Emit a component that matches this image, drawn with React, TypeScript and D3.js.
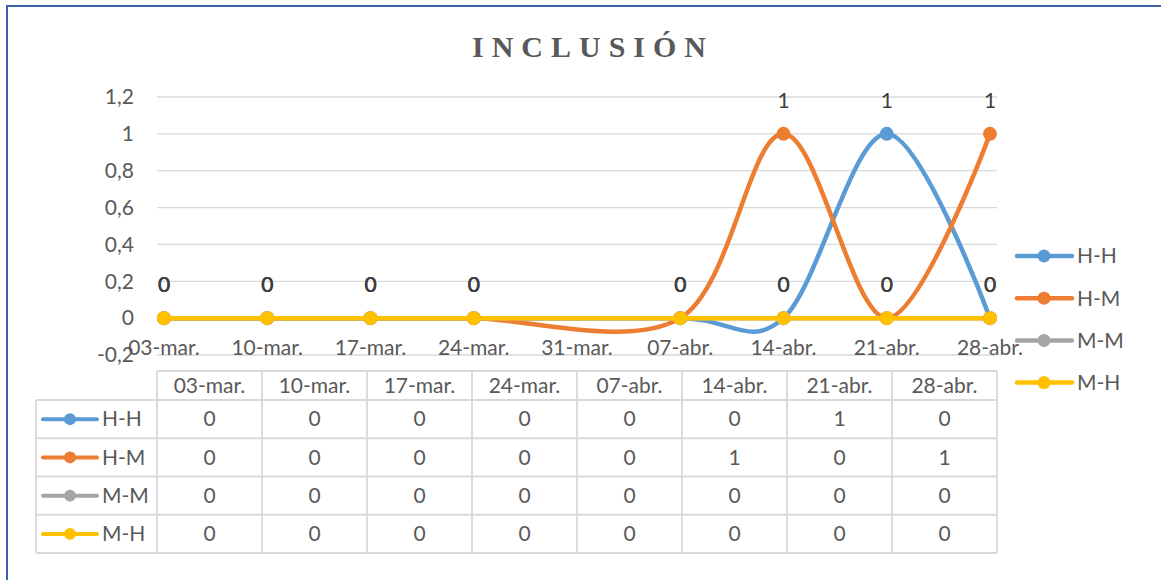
import React from "react";
import * as d3 from "d3";

const title = "INCLUSIÓN";
const axisWeeks = ["03-mar.", "10-mar.", "17-mar.", "24-mar.", "31-mar.", "07-abr.", "14-abr.", "21-abr.", "28-abr."];
const categories = ["03-mar.", "10-mar.", "17-mar.", "24-mar.", "07-abr.", "14-abr.", "21-abr.", "28-abr."];
const seriesNames = ["H-H", "H-M", "M-M", "M-H"];
const hh = [0, 0, 0, 0, 0, 0, 1, 0];
const hm = [0, 0, 0, 0, 0, 1, 0, 1];
const mm = [0, 0, 0, 0, 0, 0, 0, 0];
const mh = [0, 0, 0, 0, 0, 0, 0, 0];
const yTicks = [-0.2, 0, 0.2, 0.4, 0.6, 0.8, 1, 1.2];
const colors = ["#5B9BD5", "#ED7D31", "#A5A5A5", "#FFC000"];

const seriesValues = [hh, hm, mm, mh];
const monthIdx: Record<string, number> = { "mar.": 2, "abr.": 3 };
const toDate = (s: string) => {
  const [d, m] = s.split("-");
  return new Date(2021, monthIdx[m], parseInt(d, 10));
};

const FONT = "Lato, 'Open Sans', sans-serif";
const TXT = "#595959";
const FS = 21;

export default function App() {
  const x = d3
    .scaleTime()
    .domain([toDate(axisWeeks[0]), toDate(axisWeeks[axisWeeks.length - 1])])
    .range([164, 990]);
  const y = d3.scaleLinear().domain([-0.2, 1.2]).range([355, 97]);
  const plotLeft = 157;
  const plotRight = 997;

  const line = d3
    .line<number>()
    .x((_, i) => x(toDate(categories[i])))
    .y((v) => y(v))
    .curve(d3.curveCardinal.tension(0));

  const col = d3.scaleBand<string>().domain(categories).range([157, 997]);
  const headerTop = 371;
  const headerBottom = 400;
  const tableLeft = 36;
  const row = d3.scaleBand<string>().domain(seriesNames).range([headerBottom, 553]);
  const grid = "#D9D9D9";

  return (
    <svg
      width={1161}
      height={580}
      style={{ position: "absolute", left: 0, top: 0, display: "block", background: "#fff" }}
      fontFamily={FONT}
    >
      <rect x={0} y={0} width={1161} height={580} fill="#fff" />
      <rect x={7} y={6} width={1164} height={590} fill="none" stroke="#3A62A8" strokeWidth={2} />

      <text
        x={472}
        y={57}
        textLength={234}
        lengthAdjust="spacing"
        fontFamily="'Liberation Serif', 'DejaVu Serif', serif"
        fontWeight="bold"
        fontSize={30}
        fill={TXT}
      >
        {title}
      </text>

      {yTicks.map((t) => (
        <g key={t}>
          <line x1={plotLeft} x2={plotRight} y1={y(t)} y2={y(t)} stroke={grid} strokeWidth={1.3} />
          <text x={134} y={y(t)} dy="0.35em" textAnchor="end" fontSize={FS} fill={TXT}>
            {String(Math.round(t * 10) / 10).replace(".", ",")}
          </text>
        </g>
      ))}

      {axisWeeks.map((w) => (
        <text key={w} x={x(toDate(w))} y={348} dy="0.35em" textAnchor="middle" fontSize={FS} fill={TXT}>
          {w}
        </text>
      ))}

      {seriesValues.map((vals, si) => (
        <g key={seriesNames[si]}>
          <path d={line(vals) || ""} fill="none" stroke={colors[si]} strokeWidth={4.5} strokeLinecap="round" />
          {vals.map((v, i) => (
            <circle key={i} cx={x(toDate(categories[i]))} cy={y(v)} r={7} fill={colors[si]} />
          ))}
        </g>
      ))}

      {seriesValues.map((vals, si) =>
        vals.map((v, i) => (
          <text
            key={`${si}-${i}`}
            x={x(toDate(categories[i]))}
            y={y(v) - 33}
            dy="0.35em"
            textAnchor="middle"
            fontSize={FS}
            fill="#404040"
          >
            {v}
          </text>
        ))
      )}

      {seriesNames.map((n, si) => {
        const cy = 256 + si * 42.2;
        return (
          <g key={n}>
            <line x1={1017} x2={1072} y1={cy} y2={cy} stroke={colors[si]} strokeWidth={4.5} strokeLinecap="round" />
            <circle cx={1044} cy={cy} r={6.5} fill={colors[si]} />
            <text x={1077} y={cy} dy="0.35em" fontSize={FS} fill={TXT}>
              {n}
            </text>
          </g>
        );
      })}

      {/* data table */}
      <g stroke={grid} strokeWidth={1.8} fill="none">
        <line x1={157} x2={997} y1={headerTop} y2={headerTop} />
        {seriesNames.map((n) => (
          <line key={n} x1={tableLeft} x2={997} y1={row(n)!} y2={row(n)!} />
        ))}
        <line x1={tableLeft} x2={997} y1={553} y2={553} />
        <line x1={tableLeft} x2={tableLeft} y1={headerBottom} y2={553} />
        {categories.map((c) => (
          <line key={c} x1={col(c)!} x2={col(c)!} y1={headerTop} y2={553} />
        ))}
        <line x1={997} x2={997} y1={headerTop} y2={553} />
      </g>
      {categories.map((c) => (
        <text
          key={c}
          x={col(c)! + col.bandwidth() / 2}
          y={(headerTop + headerBottom) / 2}
          dy="0.35em"
          textAnchor="middle"
          fontSize={FS}
          fill={TXT}
        >
          {c}
        </text>
      ))}
      {seriesNames.map((n, si) => {
        const cy = row(n)! + row.bandwidth() / 2;
        return (
          <g key={n}>
            <line x1={43} x2={97} y1={cy} y2={cy} stroke={colors[si]} strokeWidth={4} strokeLinecap="round" />
            <circle cx={70} cy={cy} r={6} fill={colors[si]} />
            <text x={102} y={cy} dy="0.35em" fontSize={FS} fill={TXT}>
              {n}
            </text>
            {seriesValues[si].map((v, i) => (
              <text
                key={i}
                x={col(categories[i])! + col.bandwidth() / 2}
                y={cy}
                dy="0.35em"
                textAnchor="middle"
                fontSize={FS}
                fill={TXT}
              >
                {v}
              </text>
            ))}
          </g>
        );
      })}
    </svg>
  );
}
